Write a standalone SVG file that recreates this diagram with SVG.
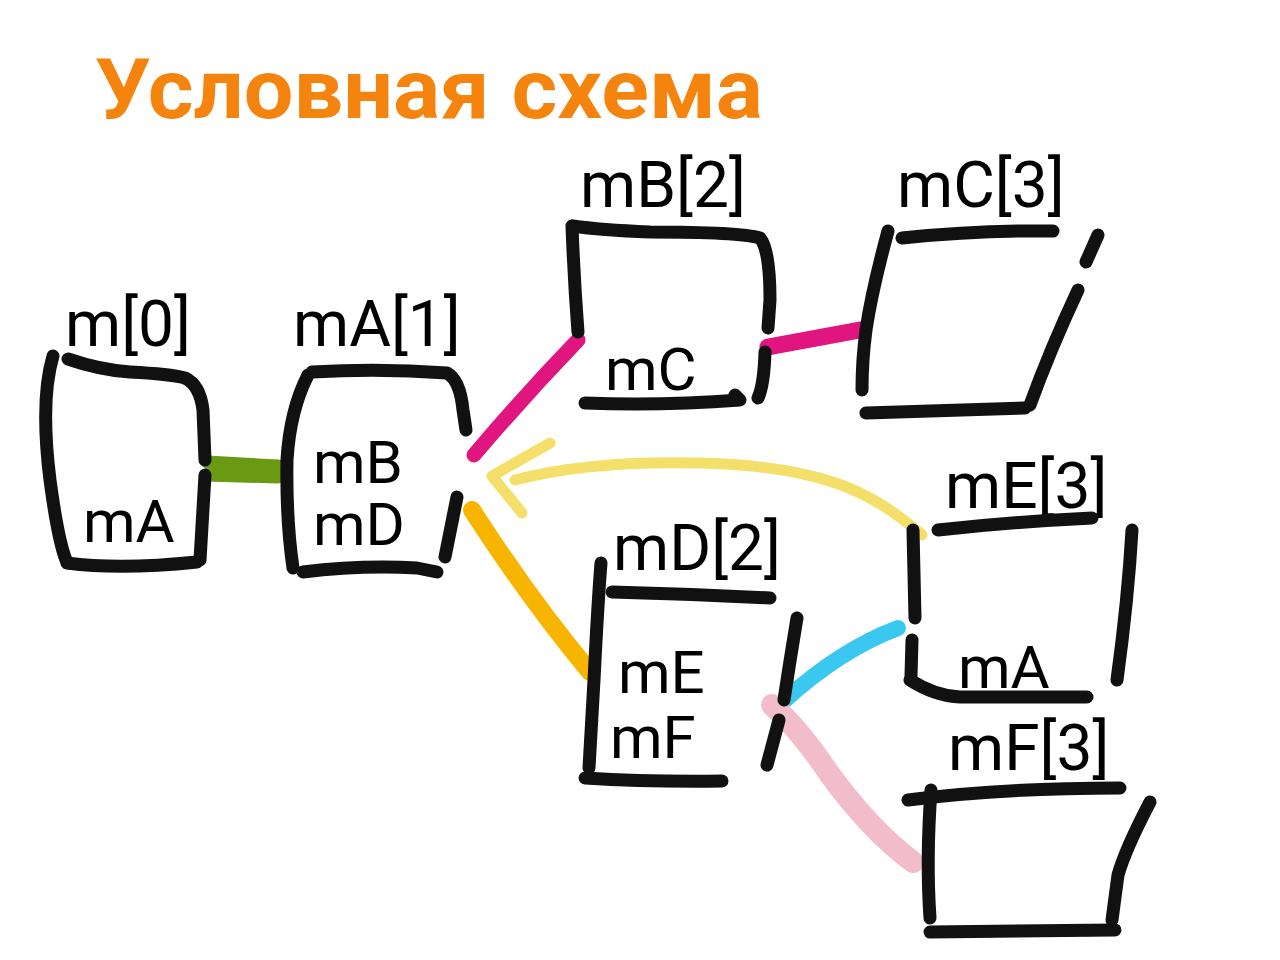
<svg xmlns="http://www.w3.org/2000/svg" width="1280" height="960" viewBox="0 0 1280 960">
<style>
.b{fill:none;stroke:#111;stroke-width:13;stroke-linecap:round;stroke-linejoin:round}
.t{font-family:Roboto,"Liberation Sans",sans-serif;font-size:64px;fill:#000}
.s{font-family:Roboto,"Liberation Sans",sans-serif;font-size:60px;fill:#000}
.c{fill:none;stroke-linecap:round;stroke-linejoin:round}
</style>
<rect width="1280" height="960" fill="#fff"/>
<text x="95" y="118" font-family="Roboto,'Liberation Sans',sans-serif" font-weight="bold" font-size="84" fill="#f5840f" textLength="668" lengthAdjust="spacingAndGlyphs">Условная схема</text>
<g id="connectors">
<path class="c" d="M207 462 L278 466 M207 475 L278 477" stroke="#6a9a12" stroke-width="13"/>
<path class="c" d="M474 455 Q525 395 578 340" stroke="#e0157f" stroke-width="15"/>
<path class="c" d="M768 347 L860 330" stroke="#e0157f" stroke-width="17"/>
<path class="c" d="M922 535 C870 490 820 466 700 463 C620 461 560 468 515 480" stroke="#f5df6b" stroke-width="11"/>
<path class="c" d="M550 443 L492 476 L522 513" stroke="#f5df6b" stroke-width="11"/>
<path class="c" d="M472 510 Q530 600 590 672" stroke="#f7b500" stroke-width="18"/>
<path class="c" d="M785 700 Q840 650 898 628" stroke="#3ac8f0" stroke-width="16"/>
<path class="c" d="M772 705 Q800 730 828 772 Q870 830 913 862" stroke="#f2bccb" stroke-width="22"/>
</g>
<g id="m0">
<text class="t" x="65" y="346">m[0]</text>
<path class="b" d="M53 356 Q40 400 50 480 Q58 540 66 560"/>
<path class="b" d="M68 359 Q100 370 130 372 Q170 374 185 378 Q200 385 203 410 L205 460 M205 475 L200 560"/>
<path class="b" d="M67 563 Q120 570 197 562"/>
<text class="s" x="83" y="542">mA</text>
</g>
<g id="mA1">
<text class="t" x="293" y="346">mA[1]</text>
<path class="b" d="M308 375 Q290 410 287 460 Q286 520 293 568"/>
<path class="b" d="M312 372 Q380 368 447 373 Q460 380 463 410 L466 430"/>
<path class="b" d="M457 497 L445 557"/>
<path class="b" d="M303 572 Q360 565 417 568 L437 572"/>
<text class="s" x="313" y="483">mB</text>
<text class="s" x="313" y="545">mD</text>
</g>
<g id="mB2">
<text class="t" x="580" y="207">mB[2]</text>
<path class="b" d="M572 226 Q574 280 578 332"/>
<path class="b" d="M573 226 Q600 230 650 232 Q740 232 760 238 Q770 250 770 300 L768 328"/>
<path class="b" d="M765 352 Q764 385 758 398"/>
<path class="b" d="M585 403 Q660 406 740 400 L735 395"/>
<text class="s" x="605" y="390">mC</text>
</g>
<g id="mC3">
<text class="t" x="897" y="207">mC[3]</text>
<path class="b" d="M888 231 Q872 290 866 330 Q862 360 862 390"/>
<path class="b" d="M902 238 Q980 230 1053 231"/>
<path class="b" d="M1098 235 L1086 262 M1078 290 Q1050 350 1030 405"/>
<path class="b" d="M866 413 L1025 408"/>
</g>
<g id="mD2">
<text class="t" x="613" y="570">mD[2]</text>
<path class="b" d="M601 563 Q598 600 594 680 L589 768"/>
<path class="b" d="M612 592 Q690 594 770 598"/>
<path class="b" d="M797 618 Q790 660 784 700 M779 720 L767 765"/>
<path class="b" d="M585 778 Q650 782 722 781"/>
<text class="s" x="618" y="693">mE</text>
<text class="s" x="610" y="758">mF</text>
</g>
<g id="mE3">
<text class="t" x="945" y="508">mE[3]</text>
<path class="b" d="M913 530 L915 618 M912 640 L911 676"/>
<path class="b" d="M910 680 Q935 696 960 697 L1087 697"/>
<path class="b" d="M938 530 Q1010 522 1092 518"/>
<path class="b" d="M1132 530 Q1128 600 1117 680"/>
<text class="s" x="958" y="688">mA</text>
</g>
<g id="mF3">
<text class="t" x="948" y="770">mF[3]</text>
<path class="b" d="M908 800 Q1000 788 1120 788"/>
<path class="b" d="M931 790 Q926 860 930 918"/>
<path class="b" d="M1150 802 Q1125 850 1118 875 L1112 920"/>
<path class="b" d="M930 932 L1115 930"/>
</g>
</svg>
